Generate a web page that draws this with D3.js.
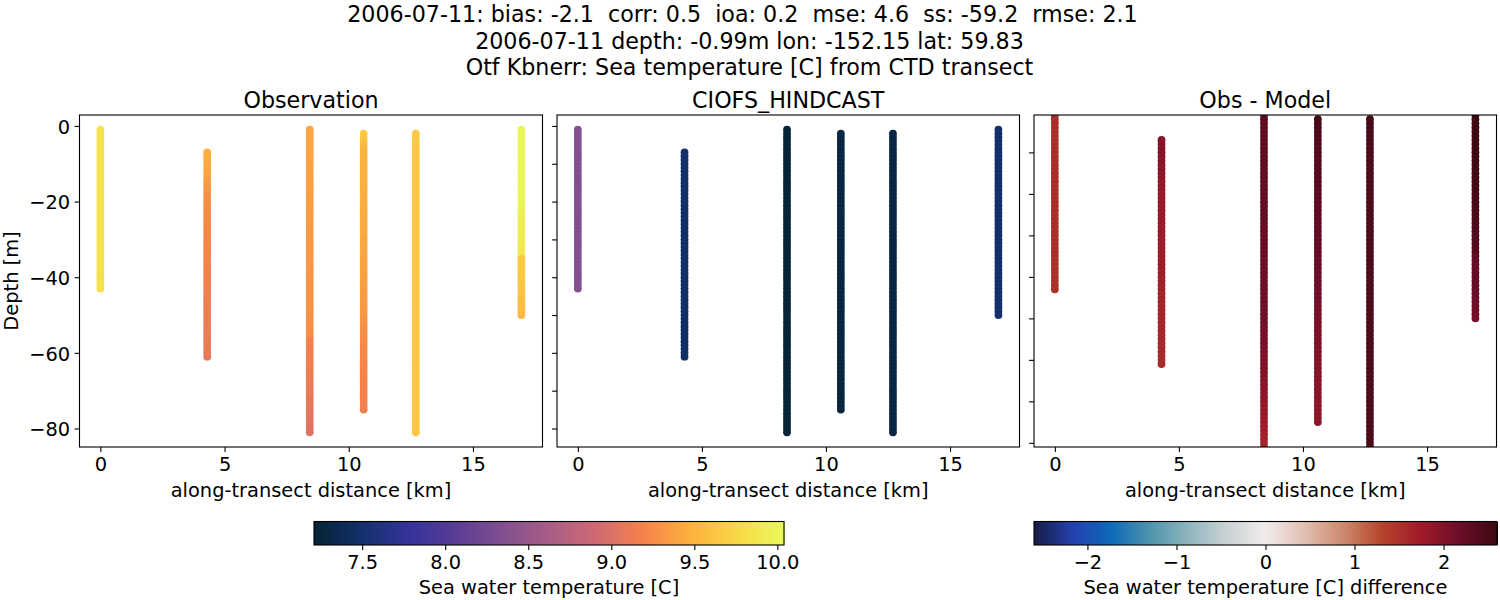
<!DOCTYPE html>
<html>
<head>
<meta charset="utf-8">
<script src="https://cdn.jsdelivr.net/npm/d3@7"></script>
<style>
  html, body { margin: 0; padding: 0; background: white; }
  svg text { font-family: "DejaVu Sans", sans-serif; fill: black; white-space: pre; }
</style>
</head>
<body>
<div id="chart"></div>
<script>
// title lines
const titleLines = [
  "2006-07-11: bias: -2.1  corr: 0.5  ioa: 0.2  mse: 4.6  ss: -59.2  rmse: 2.1",
  "2006-07-11 depth: -0.99m lon: -152.15 lat: 59.83",
  "Otf Kbnerr: Sea temperature [C] from CTD transect"
];
const panelTitles = ["Observation", "CIOFS_HINDCAST", "Obs - Model"];

// station distance along transect [km] and first depth of each cast
const stationDistance = [0, 4.3, 8.43, 10.6, 12.7, 16.95];
const stationTopDepth = [-1, -7, -1, -2, -2, -1];

const depths = [
  -1,-2,-3,-4,-5,-6,-7,-8,-9,-10,-11,-12,-13,-14,-15,-16,-17,-18,-19,-20,
  -21,-22,-23,-24,-25,-26,-27,-28,-29,-30,-31,-32,-33,-34,-35,-36,-37,-38,-39,-40,
  -41,-42,-43,-44,-45,-46,-47,-48,-49,-50,-51,-52,-53,-54,-55,-56,-57,-58,-59,-60,
  -61,-62,-63,-64,-65,-66,-67,-68,-69,-70,-71,-72,-73,-74,-75,-76,-77,-78,-79,-80,-81
];

// observed temperature, one array per station, top to bottom
const obsTemp = [
  [9.85,9.85,9.85,9.85,9.85,9.85,9.85,9.85,9.85,9.85,
   9.85,9.85,9.85,9.85,9.85,9.85,9.85,9.85,9.85,9.85,
   9.85,9.85,9.85,9.85,9.85,9.85,9.85,9.85,9.85,9.85,
   9.85,9.85,9.85,9.85,9.85,9.85,9.84,9.84,9.84,9.84,
   9.84,9.84,9.84],
  [9.48,9.47,9.46,9.45,9.44,9.42,9.40,9.38,9.36,9.34,
   9.32,9.30,9.28,9.27,9.26,9.25,9.25,9.24,9.24,9.23,
   9.23,9.22,9.22,9.21,9.21,9.21,9.20,9.20,9.20,9.19,
   9.19,9.18,9.18,9.17,9.17,9.16,9.16,9.15,9.15,9.15,
   9.15,9.14,9.14,9.14,9.13,9.13,9.13,9.12,9.12,9.12,
   9.11,9.11,9.10,9.10,9.09],
  [9.42,9.42,9.42,9.41,9.41,9.41,9.40,9.40,9.40,9.39,
   9.39,9.39,9.38,9.38,9.38,9.37,9.37,9.37,9.36,9.36,
   9.36,9.35,9.35,9.35,9.35,9.34,9.34,9.34,9.34,9.33,
   9.33,9.33,9.33,9.32,9.32,9.32,9.32,9.31,9.31,9.31,
   9.31,9.30,9.30,9.30,9.30,9.30,9.29,9.29,9.29,9.29,
   9.28,9.28,9.27,9.27,9.26,9.25,9.18,9.18,9.17,9.17,
   9.16,9.16,9.15,9.15,9.14,9.14,9.13,9.13,9.12,9.12,
   9.11,9.10,9.09,9.08,9.07,9.06,9.05,9.04,9.03,9.02,9.01],
  [9.66,9.64,9.60,9.56,9.52,9.51,9.50,9.50,9.49,9.49,
   9.49,9.48,9.48,9.48,9.47,9.47,9.47,9.46,9.46,9.46,
   9.45,9.45,9.45,9.44,9.44,9.44,9.43,9.43,9.42,9.42,
   9.42,9.41,9.41,9.40,9.40,9.40,9.39,9.39,9.38,9.38,
   9.37,9.37,9.36,9.36,9.35,9.35,9.34,9.33,9.32,9.31,
   9.30,9.29,9.28,9.27,9.26,9.25,9.24,9.23,9.23,9.22,
   9.22,9.21,9.21,9.20,9.20,9.19,9.19,9.18,9.18,9.18,
   9.17,9.17,9.17,9.16],
  [9.68,9.67,9.66,9.65,9.65,9.64,9.64,9.64,9.64,9.64,
   9.64,9.64,9.64,9.64,9.64,9.64,9.64,9.64,9.64,9.64,
   9.64,9.64,9.64,9.64,9.64,9.64,9.64,9.64,9.64,9.64,
   9.64,9.64,9.64,9.64,9.64,9.64,9.64,9.64,9.64,9.64,
   9.64,9.64,9.64,9.64,9.64,9.64,9.64,9.64,9.64,9.64,
   9.64,9.64,9.64,9.64,9.64,9.64,9.64,9.64,9.64,9.64,
   9.63,9.63,9.63,9.63,9.63,9.63,9.63,9.63,9.63,9.63,
   9.63,9.63,9.63,9.63,9.63,9.63,9.63,9.63,9.63,9.63],
  [10.0,10.0,10.0,10.0,10.0,10.0,10.0,10.0,10.0,10.0,
   10.0,10.0,10.0,10.0,10.0,10.0,10.0,10.0,10.0,10.0,
   9.99,9.98,9.97,9.96,9.95,9.94,9.93,9.93,9.92,9.92,
   9.91,9.91,9.90,9.90,9.66,9.66,9.65,9.65,9.65,9.64,
   9.64,9.63,9.62,9.61,9.60,9.59,9.58,9.57,9.56,9.55]
];

// model temperature at the same casts
const modelTemp = [
  [8.35,8.35,8.35,8.35,8.35,8.35,8.35,8.35,8.35,8.35,
   8.35,8.35,8.35,8.35,8.35,8.35,8.35,8.35,8.35,8.35,
   8.35,8.35,8.35,8.35,8.35,8.35,8.35,8.35,8.35,8.35,
   8.35,8.35,8.35,8.35,8.35,8.35,8.35,8.35,8.35,8.35,
   8.35,8.35,8.35],
  [7.49,7.49,7.49,7.49,7.49,7.49,7.49,7.49,7.49,7.49,
   7.49,7.49,7.49,7.49,7.49,7.48,7.48,7.48,7.48,7.48,
   7.48,7.48,7.48,7.48,7.48,7.48,7.48,7.48,7.48,7.48,
   7.48,7.48,7.48,7.48,7.48,7.47,7.47,7.47,7.47,7.47,
   7.47,7.47,7.47,7.47,7.47,7.46,7.46,7.46,7.46,7.46,
   7.46,7.46,7.46,7.46,7.46],
  [7.24,7.24,7.24,7.24,7.24,7.24,7.24,7.24,7.24,7.24,
   7.24,7.24,7.24,7.24,7.24,7.24,7.24,7.24,7.24,7.24,
   7.24,7.24,7.24,7.24,7.24,7.24,7.24,7.24,7.24,7.24,
   7.24,7.24,7.24,7.24,7.24,7.24,7.24,7.24,7.24,7.24,
   7.24,7.24,7.24,7.24,7.24,7.24,7.24,7.24,7.24,7.24,
   7.24,7.24,7.24,7.24,7.24,7.24,7.24,7.24,7.24,7.24,
   7.24,7.24,7.24,7.24,7.24,7.24,7.24,7.24,7.24,7.24,
   7.24,7.24,7.24,7.24,7.24,7.24,7.24,7.24,7.24,7.24,7.24],
  [7.29,7.29,7.29,7.29,7.29,7.29,7.29,7.29,7.29,7.29,
   7.29,7.29,7.29,7.29,7.29,7.29,7.29,7.29,7.29,7.29,
   7.29,7.29,7.29,7.29,7.29,7.29,7.29,7.29,7.29,7.29,
   7.28,7.28,7.28,7.28,7.28,7.28,7.28,7.28,7.28,7.28,
   7.28,7.28,7.28,7.28,7.28,7.28,7.28,7.28,7.28,7.28,
   7.28,7.28,7.28,7.28,7.28,7.28,7.28,7.28,7.28,7.28,
   7.27,7.27,7.27,7.27,7.27,7.27,7.27,7.27,7.27,7.27,
   7.27,7.27,7.27,7.27],
  [7.30,7.30,7.30,7.30,7.30,7.30,7.30,7.30,7.30,7.30,
   7.30,7.30,7.30,7.30,7.30,7.30,7.30,7.30,7.30,7.30,
   7.30,7.30,7.30,7.30,7.30,7.30,7.30,7.30,7.30,7.30,
   7.30,7.30,7.30,7.30,7.30,7.30,7.30,7.30,7.30,7.30,
   7.29,7.29,7.29,7.29,7.29,7.29,7.29,7.29,7.29,7.29,
   7.29,7.29,7.29,7.29,7.29,7.29,7.29,7.29,7.29,7.29,
   7.29,7.29,7.29,7.29,7.29,7.29,7.29,7.29,7.29,7.29,
   7.29,7.29,7.29,7.29,7.29,7.29,7.29,7.29,7.29,7.29],
  [7.50,7.50,7.50,7.50,7.50,7.50,7.50,7.50,7.50,7.50,
   7.50,7.50,7.50,7.50,7.50,7.50,7.50,7.50,7.50,7.50,
   7.50,7.50,7.50,7.50,7.50,7.50,7.50,7.50,7.50,7.50,
   7.50,7.50,7.50,7.50,7.50,7.50,7.50,7.50,7.50,7.50,
   7.50,7.50,7.50,7.50,7.50,7.50,7.50,7.50,7.50,7.50]
];

// obs - model
const diffTemp = [
  [1.52,1.52,1.52,1.52,1.52,1.52,1.52,1.52,1.52,1.52,
   1.52,1.52,1.52,1.52,1.52,1.52,1.52,1.52,1.52,1.52,
   1.52,1.52,1.52,1.52,1.52,1.52,1.52,1.52,1.52,1.52,
   1.52,1.52,1.52,1.52,1.52,1.52,1.51,1.51,1.51,1.51,
   1.51,1.51,1.50],
  [1.97,1.96,1.95,1.94,1.93,1.92,1.90,1.89,1.88,1.87,
   1.85,1.83,1.81,1.80,1.79,1.78,1.78,1.77,1.77,1.76,
   1.76,1.75,1.75,1.75,1.74,1.74,1.74,1.73,1.73,1.72,
   1.72,1.71,1.70,1.69,1.68,1.67,1.66,1.65,1.64,1.63,
   1.63,1.62,1.62,1.61,1.61,1.60,1.60,1.59,1.59,1.58,
   1.58,1.58,1.57,1.57,1.56],
  [2.32,2.32,2.31,2.31,2.31,2.30,2.30,2.30,2.29,2.29,
   2.29,2.28,2.28,2.28,2.27,2.27,2.27,2.26,2.26,2.26,
   2.25,2.25,2.25,2.24,2.24,2.24,2.23,2.23,2.23,2.22,
   2.22,2.22,2.21,2.21,2.20,2.20,2.19,2.19,2.18,2.18,
   2.17,2.17,2.16,2.16,2.15,2.15,2.14,2.14,2.13,2.13,
   2.12,2.12,2.11,2.11,2.10,2.09,2.05,2.04,2.03,2.02,
   2.01,2.00,1.98,1.97,1.96,1.94,1.92,1.90,1.88,1.86,
   1.84,1.82,1.80,1.78,1.76,1.74,1.71,1.68,1.65,1.62,1.60],
  [2.56,2.54,2.50,2.46,2.42,2.40,2.39,2.38,2.38,2.37,
   2.37,2.36,2.36,2.35,2.35,2.34,2.34,2.33,2.33,2.32,
   2.32,2.31,2.31,2.30,2.30,2.29,2.29,2.28,2.28,2.27,
   2.26,2.25,2.24,2.23,2.22,2.21,2.20,2.19,2.18,2.17,
   2.16,2.15,2.14,2.13,2.12,2.11,2.10,2.09,2.08,2.07,
   2.06,2.05,2.04,2.03,2.02,2.01,2.00,1.99,1.98,1.97,
   1.96,1.95,1.95,1.94,1.94,1.93,1.93,1.92,1.92,1.91,
   1.91,1.90,1.90,1.90],
  [2.50,2.49,2.48,2.47,2.46,2.46,2.46,2.46,2.45,2.45,
   2.45,2.45,2.45,2.45,2.45,2.45,2.45,2.45,2.45,2.45,
   2.45,2.45,2.45,2.45,2.45,2.45,2.45,2.45,2.45,2.45,
   2.45,2.45,2.45,2.45,2.45,2.45,2.45,2.45,2.45,2.45,
   2.45,2.45,2.45,2.45,2.45,2.45,2.45,2.45,2.45,2.45,
   2.45,2.45,2.45,2.45,2.45,2.45,2.45,2.45,2.45,2.45,
   2.44,2.44,2.44,2.44,2.44,2.44,2.44,2.44,2.44,2.44,
   2.44,2.44,2.44,2.44,2.44,2.44,2.44,2.44,2.44,2.44],
  [2.60,2.60,2.59,2.59,2.59,2.58,2.58,2.58,2.57,2.57,
   2.57,2.56,2.56,2.56,2.55,2.55,2.54,2.53,2.52,2.51,
   2.50,2.49,2.48,2.47,2.46,2.45,2.44,2.43,2.42,2.41,
   2.40,2.39,2.38,2.36,2.27,2.26,2.25,2.25,2.24,2.24,
   2.23,2.22,2.21,2.20,2.18,2.16,2.14,2.12,2.10,2.08]
];

const temperatureTicks = [7.5, 8.0, 8.5, 9.0, 9.5, 10.0];
const differenceTicks = [-2, -1, 0, 1, 2];
const distanceTicks = [0, 5, 10, 15];

// colormaps, sampled off the colorbars
const thermalStops = ["#042333","#13306b","#333399","#593c96","#814f8f","#a85d86","#cf6973","#f5824b","#fdb03e","#f9d846","#e8fa5b"];
const balanceStops = ["#181c43","#2340b0","#0d69b8","#4e93ad","#8fb5bd","#c9d2d4","#f1ecec","#e0bfb2","#cd8a6e","#b5452c","#a01a2a","#6d0e28","#3c0912"];

const svg = d3.select("#chart").append("svg")
  .attr("width", 1500)
  .attr("height", 600);

const thermalPos = d3.range(thermalStops.length).map(i => 7.21 + i * 2.83 / (thermalStops.length - 1));
const balancePos = d3.range(balanceStops.length).map(i => -2.6 + i * 5.2 / (balanceStops.length - 1));
const thermal = d3.scaleLinear().domain(thermalPos).range(thermalStops).clamp(true);
const balance = d3.scaleLinear().domain(balancePos).range(balanceStops).clamp(true);

//title
svg.selectAll(".suptitle").data(titleLines).join("text")
  .attr("class", "suptitle")
  .attr("x", (d, i) => i === 0 ? 742.5 : 749.5)
  .attr("y", (d, i) => 22 + i * 26.5)
  .attr("text-anchor", "middle")
  .style("font-size", "22.2px")
  .text(d => d);

// panels
const panels = [
  {left: 79.5, right: 542.5, values: obsTemp, color: thermal, yDomain: [2.9, -84.9], yTicks: [0, -20, -40, -60, -80], labels: true},
  {left: 557, right: 1019.5, values: modelTemp, color: thermal, yDomain: [2.9, -84.9], yTicks: [0, -10, -20, -30, -40, -50, -60, -70, -80], labels: false},
  {left: 1034, right: 1496.5, values: diffTemp, color: balance, yDomain: [-0.99, -81], yTicks: [-10, -20, -30, -40, -50, -60, -70, -80], labels: false}
];
const top_ = 115, bottom_ = 447;

panels.forEach((p, k) => {
  const x = d3.scaleLinear().domain([-0.84, 17.8]).range([p.left, p.right]);
  const y = d3.scaleLinear().domain(p.yDomain).range([top_, bottom_]);

  svg.append("clipPath").attr("id", `clip${k}`)
    .append("rect")
    .attr("x", p.left).attr("y", top_)
    .attr("width", p.right - p.left).attr("height", bottom_ - top_);

  const g = svg.append("g").attr("clip-path", `url(#clip${k})`);
  stationDistance.forEach((dist, s) => {
    const start = depths.indexOf(stationTopDepth[s]);
    g.append("g").selectAll("circle").data(p.values[s]).join("circle")
      .attr("cx", x(dist))
      .attr("cy", (d, i) => y(depths[start + i]))
      .attr("r", 3.9)
      .attr("fill", d => p.color(d));
  });

  const xAxis = svg.append("g")
    .attr("transform", `translate(0,${bottom_})`)
    .call(d3.axisBottom(x).tickValues(distanceTicks).tickSize(4.9).tickPadding(5.5).tickFormat(d3.format("d")));
  const yAxis = svg.append("g")
    .attr("transform", `translate(${p.left},0)`)
    .call(d3.axisLeft(y).tickValues(p.yTicks).tickSize(4.9).tickPadding(4.5)
      .tickFormat(p.labels ? d3.format("d") : ""));
  [xAxis, yAxis].forEach(a => {
    a.select(".domain").remove();
    a.selectAll("line").attr("stroke", "black").attr("stroke-width", 1.1);
    a.selectAll("text").style("font-size", "19.4px").attr("font-family", null);
  });
  yAxis.selectAll("text").attr("transform", "translate(0,1)");

  svg.append("rect")
    .attr("x", p.left).attr("y", top_)
    .attr("width", p.right - p.left).attr("height", bottom_ - top_)
    .attr("fill", "none").attr("stroke", "black").attr("stroke-width", 1.1);

  svg.append("text")
    .attr("x", (p.left + p.right) / 2).attr("y", 108)
    .attr("text-anchor", "middle").style("font-size", "22.2px")
    .text(panelTitles[k]);

  svg.append("text")
    .attr("x", (p.left + p.right) / 2).attr("y", 497)
    .attr("text-anchor", "middle").style("font-size", "19.4px")
    .text("along-transect distance [km]");
});

svg.append("text")
  .attr("transform", "translate(18,281) rotate(-90)")
  .attr("text-anchor", "middle").style("font-size", "19.4px")
  .text("Depth [m]");

// colorbars
function drawColorbar(left, right, domain, color, ticks, fmt, label) {
  const x = d3.scaleLinear().domain(domain).range([left, right]);
  const barTop = 521.5, barBottom = 545;
  const n = 256;
  svg.append("g").attr("shape-rendering", "crispEdges")
    .selectAll("rect").data(d3.range(n)).join("rect")
    .attr("x", i => left + i * (right - left) / n)
    .attr("y", barTop)
    .attr("width", (right - left) / n + 1)
    .attr("height", barBottom - barTop)
    .attr("fill", i => color(x.invert(left + (i + 0.5) * (right - left) / n)));
  const axis = svg.append("g")
    .attr("transform", `translate(0,${barBottom})`)
    .call(d3.axisBottom(x).tickValues(ticks).tickSize(4.9).tickPadding(5.5).tickFormat(fmt));
  axis.select(".domain").remove();
  axis.selectAll("line").attr("stroke", "black").attr("stroke-width", 1.1);
  axis.selectAll("text").style("font-size", "19.4px").attr("font-family", null);
  svg.append("rect")
    .attr("x", left).attr("y", barTop)
    .attr("width", right - left).attr("height", barBottom - barTop)
    .attr("fill", "none").attr("stroke", "black").attr("stroke-width", 1.1);
  svg.append("text")
    .attr("x", (left + right) / 2).attr("y", 594)
    .attr("text-anchor", "middle").style("font-size", "19.4px")
    .text(label);
}
drawColorbar(314, 784, [7.21, 10.04], thermal, temperatureTicks, d3.format(".1f"), "Sea water temperature [C]");
drawColorbar(1034, 1497, [-2.6, 2.6], balance, differenceTicks, d3.format("d"), "Sea water temperature [C] difference");
</script>
</body>
</html>
